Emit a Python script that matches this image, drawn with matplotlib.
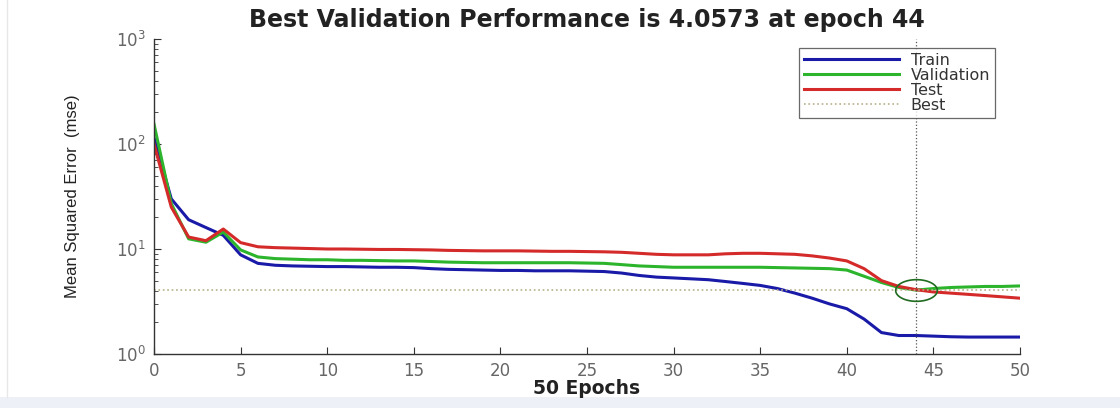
import matplotlib
matplotlib.use("Agg")
import matplotlib.pyplot as plt
import numpy as np
from matplotlib.path import Path
from matplotlib.patches import Rectangle
from matplotlib.lines import Line2D
from matplotlib.ticker import LogLocator, NullFormatter, FixedLocator

# -------------------------------------------------------------
# datos (mse por epoca)
# -------------------------------------------------------------
epochs = list(range(0, 51))

train = [115, 30, 19, 16, 13.5, 8.8, 7.3, 7.0, 6.9, 6.85,
         6.8, 6.8, 6.75, 6.7, 6.7, 6.65, 6.5, 6.4, 6.35, 6.3,
         6.25, 6.25, 6.2, 6.2, 6.2, 6.15, 6.1, 5.9, 5.6, 5.4,
         5.3, 5.2, 5.1, 4.9, 4.7, 4.5, 4.2, 3.8, 3.4, 3.0,
         2.7, 2.15, 1.6, 1.5, 1.5, 1.48, 1.46, 1.45, 1.45, 1.45,
         1.45]

validation = [155, 27, 12.5, 11.6, 14.5, 9.8, 8.4, 8.1, 8.0, 7.9,
              7.9, 7.8, 7.8, 7.75, 7.7, 7.7, 7.6, 7.5, 7.45, 7.4,
              7.4, 7.4, 7.4, 7.4, 7.4, 7.35, 7.3, 7.1, 6.9, 6.8,
              6.7, 6.7, 6.7, 6.7, 6.7, 6.7, 6.65, 6.6, 6.55, 6.5,
              6.3, 5.5, 4.8, 4.3, 4.0573, 4.2, 4.3, 4.35, 4.4, 4.4,
              4.45]

test = [100, 25, 13, 12, 15.5, 11.5, 10.5, 10.3, 10.2, 10.1,
        10.0, 10.0, 9.95, 9.9, 9.9, 9.85, 9.8, 9.7, 9.65, 9.6,
        9.6, 9.6, 9.55, 9.5, 9.5, 9.45, 9.4, 9.3, 9.1, 8.9,
        8.8, 8.8, 8.8, 9.0, 9.1, 9.1, 9.0, 8.9, 8.6, 8.2,
        7.7, 6.5, 5.0, 4.4, 4.1, 3.9, 3.8, 3.7, 3.6, 3.5,
        3.4]

best_epoch = 44
best_perf = 4.0573
x_ticks = [0, 5, 10, 15, 20, 25, 30, 35, 40, 45, 50]


# -------------------------------------------------------------
# figura
# -------------------------------------------------------------
fig = plt.figure(figsize=(11.2, 4.08), dpi=100)
fig.patch.set_facecolor("white")
fig.patches.append(Rectangle((0, 0), 1, 11 / 408, transform=fig.transFigure,
                             facecolor="#edf1f7", edgecolor="none", zorder=0))
fig.lines.append(Line2D([7 / 1120, 7 / 1120], [11 / 408, 1], transform=fig.transFigure,
                        color="#e8e8e8", lw=1.0))

ax = fig.add_axes([154 / 1120, 1 - 354 / 408, 866 / 1120, 315 / 408])

ax.plot(epochs, train, color="#1a1aa8", lw=2.2, label="Train")
ax.plot(epochs, validation, color="#2cb52c", lw=2.2, label="Validation")
ax.plot(epochs, test, color="#d42a2a", lw=2.2, label="Test")
ax.axhline(best_perf, color="#b5b08a", lw=1.2, ls=":", label="Best")
ax.axvline(best_epoch, color="#555555", lw=0.9, ls=":")

# elipse alrededor del mejor punto
t = np.linspace(0, 2 * np.pi, 60)
elipse = Path(np.column_stack([np.cos(t), 0.52 * np.sin(t)]))
ax.plot([best_epoch], [best_perf], marker=elipse, ms=30, mfc="none",
        mec="#1f6b1f", mew=1.2, ls="none")

ax.set_yscale("log")
ax.set_xlim(0, 50)
ax.set_ylim(1, 1000)

ax.xaxis.set_major_locator(FixedLocator(x_ticks))
ax.yaxis.set_major_locator(LogLocator(base=10, numticks=10))
ax.yaxis.set_minor_locator(LogLocator(base=10, subs=np.arange(2, 10), numticks=20))
ax.yaxis.set_minor_formatter(NullFormatter())

ax.spines["top"].set_visible(False)
ax.spines["right"].set_visible(False)
for s in ["left", "bottom"]:
    ax.spines[s].set_color("#333333")
    ax.spines[s].set_linewidth(1.0)

ax.tick_params(which="both", direction="in", colors="#333333", labelcolor="#666666")
ax.tick_params(which="major", length=5, labelsize=12, pad=6)
ax.tick_params(which="minor", length=3)

ax.set_ylabel("Mean Squared Error  (mse)", fontsize=12, color="#222222",
              family=["Liberation Sans", "DejaVu Sans"], labelpad=26)
fig.text(587 / 1120, 1 - 389 / 408, "50 Epochs", ha="center", va="center",
         fontsize=13.5, fontweight="bold", color="#222222")
fig.text(587 / 1120, 1 - 20 / 408, "Best Validation Performance is 4.0573 at epoch 44",
         ha="center", va="center", fontsize=17, fontweight="bold", color="#222222")

leg = ax.legend(loc="upper right", bbox_to_anchor=(0.971, 0.971), fontsize=11.5,
                frameon=True, fancybox=False, borderaxespad=0, handlelength=6.0,
                labelspacing=0.0, borderpad=0.3, handletextpad=0.7)
leg.get_frame().set_edgecolor("#444444")
leg.get_frame().set_linewidth(0.9)
for txt in leg.get_texts():
    txt.set_color("#333333")

fig.savefig("out.png", dpi=100)
